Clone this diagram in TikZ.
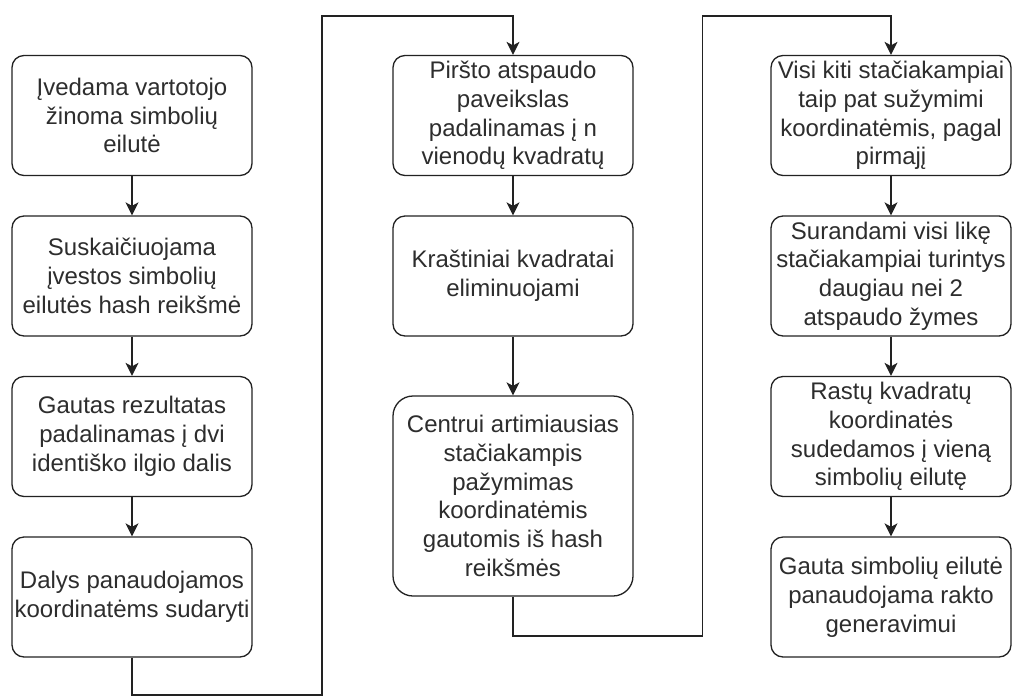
\documentclass[tikz,border=0pt]{standalone}
\usepackage{fontspec}
\setmainfont{Liberation Sans}
\usetikzlibrary{arrows.meta}
\definecolor{ink}{RGB}{34,34,34}
\definecolor{txt}{RGB}{45,45,45}
\tikzset{
  stepbox/.style={draw=ink, line width=1.3pt, rounded corners=12pt,
    minimum width=240pt, minimum height=120pt, inner sep=0pt,
    align=center, text=txt, font=\fontsize{24}{28.8}\selectfont},
  tallbox/.style={stepbox, minimum height=200pt, rounded corners=20pt},
  flow/.style={draw=ink, line width=1.4pt,
    -{Stealth[length=13pt,width=13pt,inset=3.5pt]}}
}
\begin{document}
\begin{tikzpicture}[x=1pt,y=-1pt]
  \fill[white] (0,0) rectangle (1012,697);
  \useasboundingbox (0,0) rectangle (1012,697);

  % first column
  \node[stepbox] (a1) at (132,115.5) {Įvedama vartotojo\\žinoma simbolių\\eilutė};
  \node[stepbox] (a2) at (132,276)   {Suskaičiuojama\\įvestos simbolių\\eilutės hash reikšmė};
  \node[stepbox] (a3) at (132,436.5) {Gautas rezultatas\\padalinamas į dvi\\identiško ilgio dalis};
  \node[stepbox] (a4) at (132,597)   {Dalys panaudojamos\\koordinatėms sudaryti};

  % second column
  \node[stepbox] (b1) at (513,115.5) {Piršto atspaudo\\paveikslas\\padalinamas į n\\vienodų kvadratų};
  \node[stepbox] (b2) at (513,276)   {Kraštiniai kvadratai\\eliminuojami};
  \node[tallbox] (b3) at (513,496)   {Centrui artimiausias\\stačiakampis\\pažymimas\\koordinatėmis\\gautomis iš hash\\reikšmės};

  % third column
  \node[stepbox] (d1) at (891,115.5) {Visi kiti stačiakampiai\\taip pat sužymimi\\koordinatėmis, pagal\\pirmajį};
  \node[stepbox] (d2) at (891,276)   {Surandami visi likę\\stačiakampiai turintys\\daugiau nei 2\\atspaudo žymes};
  \node[stepbox] (d3) at (891,436.5) {Rastų kvadratų\\koordinatės\\sudedamos į vieną\\simbolių eilutę};
  \node[stepbox] (d4) at (891,597)   {Gauta simbolių eilutė\\panaudojama rakto\\generavimui};

  % bends of the column-to-column links
  \coordinate (c1) at (322,695);
  \coordinate (c2) at (513,16);
  \coordinate (c3) at (702.5,636);
  \coordinate (c4) at (891,16);

  % arrows inside the columns
  \draw[flow] (a1) -- (a2);
  \draw[flow] (a2) -- (a3);
  \draw[flow] (a3) -- (a4);
  \draw[flow] (b1) -- (b2);
  \draw[flow] (b2) -- (b3);
  \draw[flow] (d1) -- (d2);
  \draw[flow] (d2) -- (d3);
  \draw[flow] (d3) -- (d4);

  % links from one column to the next
  \draw[flow] (a4.south) |- (c1) |- (c2) -- (b1.north);
  \draw[flow] (b3.south) |- (c3) |- (c4) -- (d1.north);
\end{tikzpicture}
\end{document}
